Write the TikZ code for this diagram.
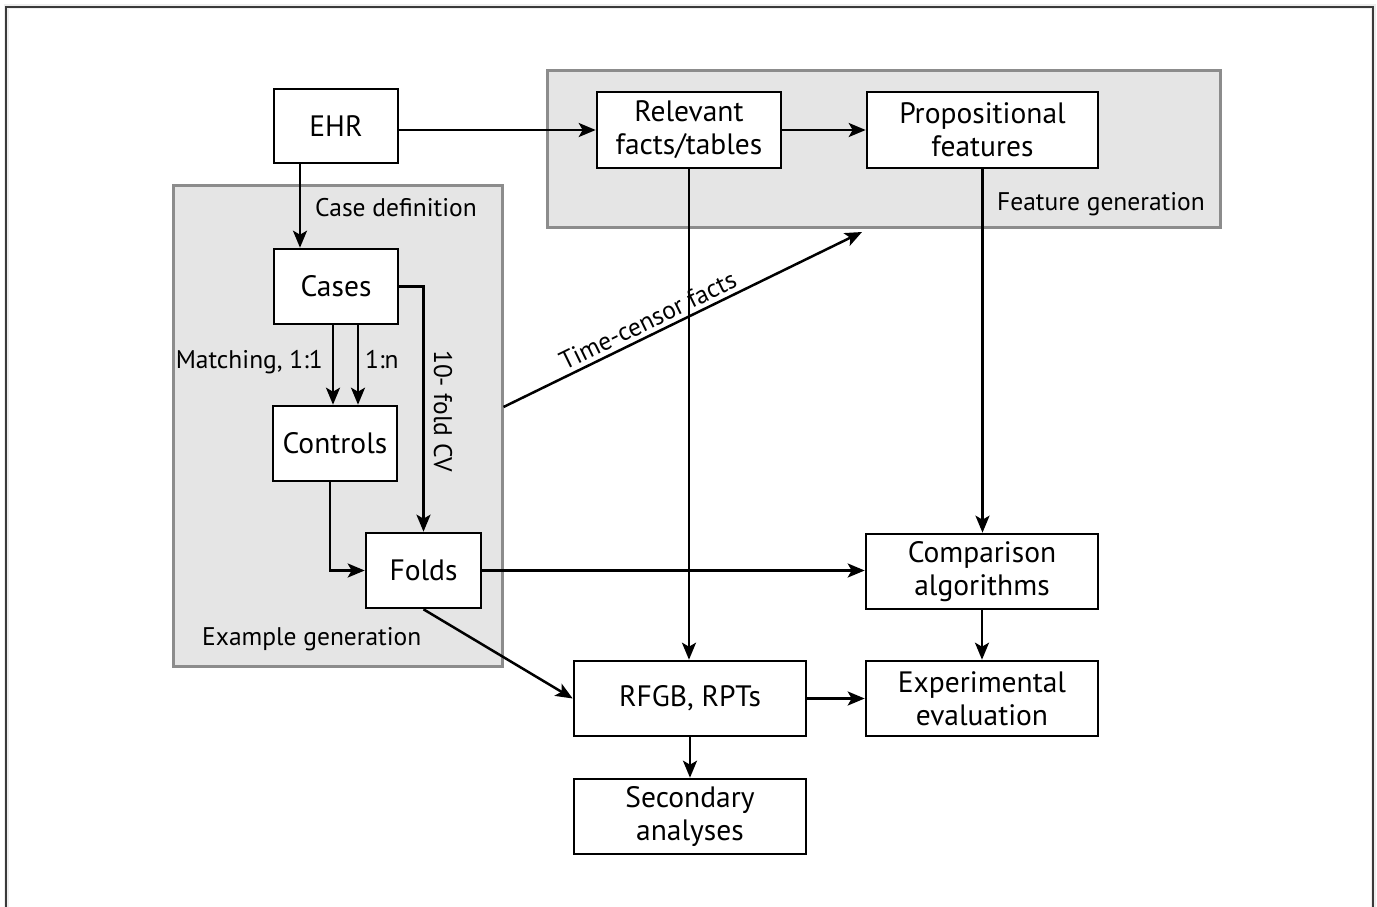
\documentclass[tikz,border=0pt]{standalone}
\usepackage{fontspec}
\setmainfont{PT Sans}
\usetikzlibrary{arrows.meta,calc}
\definecolor{grpfill}{HTML}{E5E5E5}
\definecolor{grpline}{HTML}{8C8C8C}
\definecolor{framecol}{HTML}{3A3A3A}
\definecolor{shadowcol}{HTML}{EEEEEE}
\begin{document}
\begin{tikzpicture}[x=1pt,y=-1pt,
  boxn/.style={draw=black,line width=2.6pt,fill=white,inner sep=0pt,align=center,
    minimum height=75pt,font=\fontsize{29.5}{33}\selectfont},
  grp/.style={draw=grpline,fill=grpfill,line width=3pt,inner sep=0pt},
  lbl/.style={font=\fontsize{25.5}{30}\selectfont,inner sep=0pt},
  ln/.style={line width=2.5pt},
  arr/.style={ln,-{Stealth[length=17pt,width=14pt,inset=4pt]}}]
\useasboundingbox (0,0) rectangle (1377,907);
% outer frame
\draw[shadowcol,line width=5pt] (6,7) rectangle (1373,940);
\draw[framecol,line width=1.8pt] (6,7) rectangle (1373,940);
% groups
\node[grp,minimum width=673pt,minimum height=156pt] (fgrp) at (883.5,149) {};
\node[grp,minimum width=329pt,minimum height=481pt] (egrp) at (337.5,425.5) {};
% boxes
\node[boxn,minimum width=124pt,minimum height=74pt] (ehr) at (336,126) {EHR};
\node[boxn,minimum width=184pt,minimum height=76pt] (rel) at (689,130) {Relevant\\facts/tables};
\node[boxn,minimum width=231pt,minimum height=76pt] (prop) at (982.5,130) {Propositional\\features};
\node[boxn,minimum width=124pt] (cases) at (336,286.5) {Cases};
\node[boxn,minimum width=124pt] (controls) at (335,443.5) {Controls};
\node[boxn,minimum width=115pt] (folds) at (423.5,570.5) {Folds};
\node[boxn,minimum width=232pt] (comp) at (982,571.5) {Comparison\\algorithms};
\node[boxn,minimum width=232pt] (rfgb) at (690,698.5) {RFGB, RPTs};
\node[boxn,minimum width=232pt] (exp) at (982,698.5) {Experimental\\evaluation};
\node[boxn,minimum width=232pt] (sec) at (690,816.5) {Secondary\\analyses};
% labels
\node[lbl,anchor=base west] (casedef) at (315,216) {Case definition};
\node[lbl,anchor=base east] (match) at (323,368) {Matching, 1:1};
\node[lbl,anchor=base west] (onen) at (365,368) {1:n};
\node[lbl,rotate=-90] (cv) at (443,411) {10- fold CV};
\node[lbl,anchor=base west] (fgen) at (997,210) {Feature generation};
\node[lbl,anchor=base west] (egen) at (202,645) {Example generation};
% free ends of the time-censor arrow
\coordinate (tcs) at (egrp.east |- 0,407);
\coordinate (tce) at (862,232);
% connectors
\draw[arr] (ehr.east |- rel.west) -- (rel.west);
\draw[arr] (rel.east) -- (rel.east -| prop.west);
\draw[arr] ([xshift=-36pt]ehr.south) -- ([xshift=-36pt]ehr.south |- cases.north);
\draw[arr] ([xshift=-3pt]cases.south) -- ([xshift=-3pt]cases.south |- controls.north);
\draw[arr] ([xshift=22pt]cases.south) -- ([xshift=22pt]cases.south |- controls.north);
\draw[arr] (cases.east) -| (folds.north);
\draw[arr] ([xshift=-5pt]controls.south) |- (folds.west);
\draw[arr] (folds.east) -- (folds.east -| comp.west);
\draw[arr] (folds.south) -- (rfgb.west);
\draw[arr] (rel.south) -- (rel.south |- rfgb.north);
\draw[arr] (prop.south) -- (prop.south |- comp.north);
\draw[arr] (comp.south) -- (exp.north);
\draw[arr] (rfgb.east) -- (exp.west);
\draw[arr] (rfgb.south) -- (sec.north);
\draw[arr] (tcs) -- node[lbl,sloped,above=4pt,pos=0.42] {Time-censor facts} (tce);
\end{tikzpicture}
\end{document}
